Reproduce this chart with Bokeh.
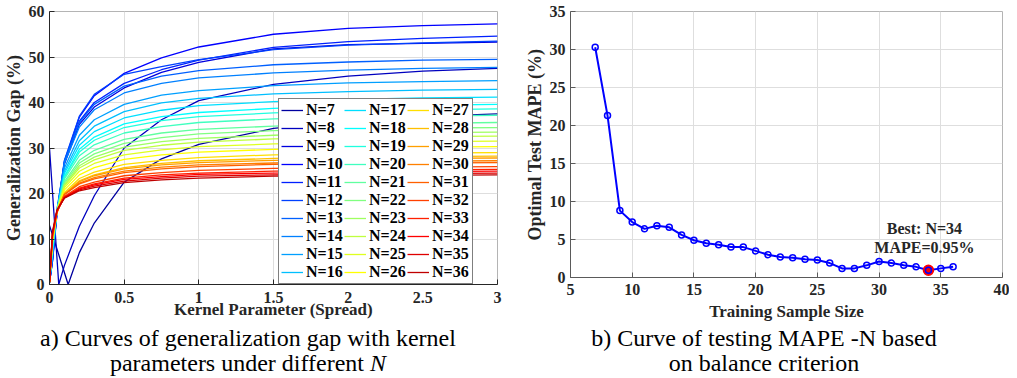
import numpy as np
from bokeh.plotting import figure
from bokeh.models import (Range1d, FixedTicker, CustomJSTickFormatter, Legend,
                          LegendItem, Label, Div, Spacer)
from bokeh.layouts import row, column
from bokeh.embed import file_html
from bokeh.resources import INLINE

SERIF = "Liberation Serif"

# ---------------- panel a) generalization gap vs kernel spread ----------------
spread_knots = [0.0, 0.02, 0.05, 0.1, 0.2, 0.3, 0.5, 0.75, 1.0, 1.5, 2.0, 2.5, 3.0]
spread_N7 = [0.0, 0.125, 0.2, 0.3, 0.5, 0.75, 1.0, 1.5, 2.0, 2.5, 3.0]
gap_N7 = [13.0, 0.0, 7.0, 13.5, 22.5, 27.6, 30.8, 34.3, 35.9, 36.9, 37.5]
spread_N8 = [0.0, 0.062, 0.1, 0.2, 0.3, 0.5, 0.75, 1.0, 1.5, 2.0, 2.5, 3.0]
gap_N8 = [30.0, 0.0, 4.2, 12.8, 19.5, 30.0, 36.2, 40.4, 44.0, 45.8, 46.9, 47.5]
gap_N9 = [0.4, 5.5, 15.9, 26.5, 35.2, 39.0, 43.2, 46.6, 48.8, 51.8, 52.7, 53.0, 53.3]
gap_N10 = [0.4, 5.0, 15.5, 27.0, 36.8, 41.5, 46.4, 49.8, 52.2, 55.0, 56.3, 56.9, 57.3]
gap_N11 = [0.4, 5.4, 15.8, 26.8, 35.9, 40.0, 44.2, 47.2, 49.3, 52.1, 53.4, 54.1, 54.6]
gap_N12 = [0.4, 5.2, 15.7, 27.3, 37.0, 41.8, 46.2, 47.9, 49.4, 51.6, 52.6, 53.1, 53.5]
gap_N13 = [0.5, 5.9, 16.3, 27.2, 35.6, 39.6, 43.6, 45.8, 47.0, 48.3, 48.9, 49.3, 49.5]
gap_N14 = [0.5, 6.5, 16.5, 26.7, 34.6, 38.4, 42.1, 44.2, 45.4, 46.5, 47.1, 47.5, 47.7]
gap_N15 = [0.5, 6.8, 16.1, 25.6, 32.8, 36.2, 39.6, 41.6, 42.6, 43.7, 44.3, 44.6, 44.8]
gap_N16 = [0.5, 7.2, 16.1, 24.9, 31.6, 34.8, 38.0, 39.9, 40.9, 41.9, 42.4, 42.7, 42.9]
gap_N17 = [0.5, 7.5, 16.1, 24.4, 30.6, 33.6, 36.6, 38.3, 39.3, 40.2, 40.7, 41.0, 41.2]
gap_N18 = [0.5, 7.8, 16.1, 23.8, 29.7, 32.4, 35.3, 36.9, 37.8, 38.7, 39.2, 39.4, 39.6]
gap_N19 = [0.5, 8.3, 16.3, 23.6, 29.1, 31.7, 34.5, 36.0, 36.9, 37.7, 38.2, 38.4, 38.6]
gap_N20 = [0.5, 8.5, 16.2, 23.2, 28.3, 30.7, 33.3, 34.7, 35.6, 36.4, 36.8, 37.0, 37.2]
gap_N21 = [0.5, 8.7, 16.1, 22.6, 27.3, 29.5, 31.9, 33.3, 34.1, 34.8, 35.2, 35.4, 35.6]
gap_N22 = [0.5, 9.0, 16.1, 22.2, 26.7, 28.7, 31.0, 32.3, 33.1, 33.8, 34.2, 34.4, 34.5]
gap_N23 = [0.5, 9.3, 16.1, 21.9, 26.1, 28.0, 30.2, 31.4, 32.1, 32.8, 33.2, 33.4, 33.5]
gap_N24 = [0.5, 9.5, 16.2, 21.7, 25.6, 27.4, 29.5, 30.6, 31.3, 32.0, 32.3, 32.5, 32.6]
gap_N25 = [0.5, 9.7, 16.2, 21.3, 24.9, 26.6, 28.5, 29.6, 30.3, 30.9, 31.2, 31.4, 31.5]
gap_N26 = [0.5, 9.8, 16.0, 20.8, 24.1, 25.7, 27.5, 28.5, 29.1, 29.7, 30.0, 30.2, 30.3]
gap_N27 = [0.5, 9.8, 15.7, 20.2, 23.3, 24.7, 26.4, 27.3, 27.9, 28.5, 28.7, 28.9, 29.0]
gap_N28 = [0.5, 10.0, 15.7, 19.9, 22.8, 24.1, 25.7, 26.6, 27.2, 27.7, 28.0, 28.1, 28.2]
gap_N29 = [0.5, 10.3, 15.9, 19.9, 22.6, 23.9, 25.4, 26.3, 26.8, 27.3, 27.6, 27.7, 27.8]
gap_N30 = [0.5, 10.5, 16.0, 19.8, 22.3, 23.5, 24.9, 25.8, 26.3, 26.7, 27.0, 27.1, 27.2]
gap_N31 = [0.5, 10.8, 16.2, 19.8, 22.1, 23.2, 24.6, 25.4, 25.9, 26.4, 26.6, 26.7, 26.8]
gap_N32 = [0.5, 10.8, 16.0, 19.4, 21.5, 22.5, 23.9, 24.6, 25.1, 25.5, 25.7, 25.8, 25.9]
gap_N33 = [0.5, 11.0, 16.0, 19.2, 21.2, 22.1, 23.4, 24.1, 24.5, 24.9, 25.1, 25.2, 25.3]
gap_N34 = [0.5, 11.2, 16.2, 19.1, 21.0, 21.9, 23.1, 23.7, 24.2, 24.5, 24.7, 24.8, 24.9]
gap_N35 = [0.5, 11.4, 16.3, 19.1, 20.8, 21.6, 22.7, 23.4, 23.8, 24.1, 24.3, 24.4, 24.5]
gap_N36 = [0.5, 11.6, 16.4, 19.0, 20.6, 21.3, 22.4, 23.0, 23.4, 23.8, 23.9, 24.0, 24.1]

x_ticks_a = [0, 0.5, 1, 1.5, 2, 2.5, 3]
y_ticks_a = [0, 10, 20, 30, 40, 50, 60]

# ---------------- panel b) testing MAPE vs training sample size ----------------
sample_sizes = [7, 8, 9, 10, 11, 12, 13, 14, 15, 16, 17, 18, 19, 20, 21,
                22, 23, 24, 25, 26, 27, 28, 29, 30, 31, 32, 33, 34, 35, 36]
test_mape = [30.3, 21.3, 8.8, 7.3, 6.4, 6.8, 6.6, 5.6, 4.9, 4.5, 4.3, 4.0, 4.0, 3.5, 3.0,
             2.7, 2.6, 2.4, 2.3, 1.9, 1.2, 1.2, 1.6, 2.1, 1.9, 1.6, 1.4, 0.95, 1.2, 1.4]
best_N = 34
best_mape = 0.95

x_ticks_b = [5, 10, 15, 20, 25, 30, 35, 40]
y_ticks_b = [0, 5, 10, 15, 20, 25, 30, 35]

caption_a = 'a) Curves of generalization gap with kernel<br>parameters under different <i>N</i>'
caption_b = 'b) Curve of testing MAPE -N based<br>on balance criterion'


def jet(m):
    n = int(np.ceil(m / 4))
    u = np.concatenate([np.arange(1, n + 1) / n, np.ones(n - 1), np.arange(n, 0, -1) / n])
    g = int(np.ceil(n / 2)) - (1 if m % 4 == 1 else 0) + np.arange(1, len(u) + 1)
    r = g + n
    b = g - n
    cols = np.zeros((m, 3))
    for arr, ch in ((r, 0), (g, 1), (b, 2)):
        mask = (arr >= 1) & (arr <= m)
        cols[arr[mask] - 1, ch] = u[mask]
    return ["#%02x%02x%02x" % tuple(int(round(c * 255)) for c in rgb) for rgb in cols]


def style_axes(p, xticks, yticks, axis_color, xlabel, ylabel,
               x_label_standoff, x_axis_label_standoff, y_label_standoff, y_axis_label_standoff):
    fmt = "return tick.toString();"
    p.xaxis.ticker = FixedTicker(ticks=xticks)
    p.yaxis.ticker = FixedTicker(ticks=yticks)
    p.xaxis.formatter = CustomJSTickFormatter(code=fmt)
    p.yaxis.formatter = CustomJSTickFormatter(code=fmt)
    p.xaxis.axis_label = xlabel
    p.yaxis.axis_label = ylabel
    for ax in (p.xaxis, p.yaxis):
        ax.axis_line_color = axis_color
        ax.major_tick_line_color = axis_color
        ax.major_tick_in = 5
        ax.major_tick_out = 0
        ax.minor_tick_in = 0
        ax.minor_tick_out = 0
        ax.major_label_text_font = SERIF
        ax.major_label_text_font_style = "bold"
        ax.major_label_text_font_size = "16px"
        ax.major_label_text_color = "#262626"
        ax.axis_label_text_font = SERIF
        ax.axis_label_text_font_style = "bold"
        ax.axis_label_text_color = "#262626"
    p.xaxis.axis_label_text_font_size = "17px"
    p.yaxis.axis_label_text_font_size = "18px"
    p.xaxis.major_label_standoff = x_label_standoff
    p.xaxis.axis_label_standoff = x_axis_label_standoff
    p.yaxis.major_label_standoff = y_label_standoff
    p.yaxis.axis_label_standoff = y_axis_label_standoff
    p.xgrid.grid_line_color = "#dedede"
    p.ygrid.grid_line_color = "#dedede"
    p.outline_line_color = "#b4b4b4"
    p.outline_line_width = 1


def caption_div(html, width):
    css = ("font-family:'Liberation Serif',serif;font-size:24px;line-height:25px;"
           "text-align:center;color:black;margin:0;padding:0;")
    return Div(text=f'<div style="{css}">{html}</div>', width=width, height=50, margin=0,
               styles={"text-align": "center", "font-family": "'Liberation Serif', serif",
                       "font-size": "24px", "line-height": "25px", "color": "black"})


# ---------------- figure a ----------------
p1 = figure(width=520, height=326, x_range=Range1d(0, 3), y_range=Range1d(0, 60),
            output_backend="svg", toolbar_location=None, frame_align=False,
            min_border_left=49, min_border_right=23, min_border_top=11, min_border_bottom=42)
style_axes(p1, x_ticks_a, y_ticks_a, "#262626", "Kernel Parameter (Spread)",
           "Generalization Gap (%)", 7, -6, 5, 2)

curves = [(7, spread_N7, gap_N7), (8, spread_N8, gap_N8)]
gap_rows = [gap_N9, gap_N10, gap_N11, gap_N12, gap_N13, gap_N14, gap_N15, gap_N16,
            gap_N17, gap_N18, gap_N19, gap_N20, gap_N21, gap_N22, gap_N23, gap_N24,
            gap_N25, gap_N26, gap_N27, gap_N28, gap_N29, gap_N30, gap_N31, gap_N32,
            gap_N33, gap_N34, gap_N35, gap_N36]
for k, g in enumerate(gap_rows):
    curves.append((9 + k, spread_knots, g))

colors = jet(len(curves))
items = []
for i, (n, xs, ys) in enumerate(curves):
    r = p1.line(xs, ys, line_color=colors[i], line_width=1.3)
    items.append(LegendItem(label=f"N={n}", renderers=[r]))

legend = Legend(items=items, location=(229, 0), ncols=3, orientation="vertical",
                margin=0, padding=2, spacing=0,
                glyph_width=22, glyph_height=18, label_height=18, label_width=38,
                label_standoff=3,
                label_text_font=SERIF, label_text_font_style="bold",
                label_text_font_size="16px", label_text_color="black",
                border_line_color="black", border_line_width=1,
                background_fill_color="white", background_fill_alpha=1.0)
p1.add_layout(legend)

# ---------------- figure b ----------------
p2 = figure(width=489, height=326, x_range=Range1d(5, 40), y_range=Range1d(0, 35),
            output_backend="svg", toolbar_location=None, frame_align=False,
            min_border_left=50, min_border_right=7, min_border_top=11, min_border_bottom=49)
style_axes(p2, x_ticks_b, y_ticks_b, "#5a5a5a", "Training Sample Size",
           "Optimal Test MAPE (%)", 6, 4, 5, 2)

p2.line(sample_sizes, test_mape, line_color="#0000ff", line_width=2)
p2.scatter([best_N], [best_mape], marker="circle", size=10,
           fill_color="#ff0000", line_color="#ff0000", line_width=1.5)
p2.scatter(sample_sizes, test_mape, marker="circle", size=6, fill_color=None,
           line_color="#0000ff", line_width=1.5)

for txt, dy in ((f"Best: N={best_N}", 42), (f"MAPE={best_mape}%", 23)):
    p2.add_layout(Label(x=best_N, y=best_mape, x_offset=-4, y_offset=dy, text=txt,
                        text_align="center", text_baseline="middle",
                        text_font=SERIF, text_font_style="bold",
                        text_font_size="16px", text_color="#262626"))

captions = row(caption_div(caption_a, 496), Spacer(width=24, height=50),
               caption_div(caption_b, 488))
layout = column(row(p1, p2), captions)

with open("out.html", "w") as f:
    f.write(file_html(layout, INLINE))
